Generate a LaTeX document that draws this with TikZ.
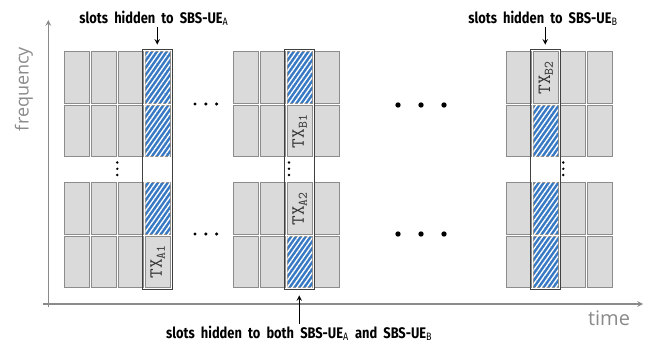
\documentclass[tikz,border=0pt]{standalone}
\usepackage{fontspec}
\newfontfamily\lblfont{Fira Sans}[FakeStretch=0.84]
\newfontfamily\axfont{Open Sans}
\newcommand\lblstyle{\fontsize{11.5}{12}\selectfont\lblfont\bfseries\spaceskip=4.6pt plus 1pt\relax}
\usetikzlibrary{calc, patterns.meta}
\definecolor{slotgray}{HTML}{DADADA}
\definecolor{slotedge}{HTML}{8C8C8C}
\definecolor{hidblue}{HTML}{3879C4}
\definecolor{axgray}{HTML}{8A8A8A}
\definecolor{boxedge}{HTML}{404040}

\begin{document}
\begin{tikzpicture}[x=0.75pt, y=-0.75pt, >=stealth,
    slot/.style={draw=slotedge, fill=slotgray, line width=0.7pt, inner sep=0pt,
                 minimum width=18.4pt, minimum height=38.6pt, anchor=north west},
    hidden/.style={draw=slotedge, fill=hidblue, line width=0.7pt, inner sep=0pt,
                   minimum width=18.4pt, minimum height=38.6pt,
                   postaction={pattern={Lines[angle=55, distance=3pt, line width=1pt]},
                               pattern color=white}},
    colbox/.style={draw=boxedge, line width=1.1pt, minimum width=22.5pt,
                   minimum height=180pt, inner sep=0pt},
    txlbl/.style={rotate=90, text=black!80, font=\fontsize{14}{14}\selectfont\ttfamily},
    toplbl/.style={font=\lblstyle, inner sep=1pt},
    axlbl/.style={text=axgray, font=\fontsize{13.5}{14}\selectfont\axfont},
    axis/.style={draw=axgray, line width=0.9pt},
    dot/.style={fill=black}]
  \useasboundingbox (0,0) rectangle (653,342);

  % axes
  \coordinate (xs) at (43,304);
  \coordinate (xe) at (643,304);
  \coordinate (ys) at (48.3,307);
  \coordinate (ye) at (48.3,20);
  \draw[axis, ->] (xs) -- (xe);
  \draw[axis, ->] (ys) -- (ye);
  \node[axlbl, rotate=90] (freq) at (24,89) {frequency};
  \node[axlbl, font=\fontsize{15}{15}\selectfont\axfont] (time) at (609,318) {time};

  % slot grid: three groups of four columns, four rows
  \foreach \gx/\gn in {64/a, 233/b, 506/c}
    \foreach \c in {1,...,4}
      \foreach \r/\ry in {1/51.5, 2/105, 3/182.5, 4/235.5}
        \node[slot] (\gn\c\r) at (\gx+27*\c-27, \ry) {};

  % hidden slots
  \foreach \n in {a41, a42, a43, b31, b34, c22, c23, c24}
    \node[hidden] (h\n) at (\n) {};

  % transmissions
  \node[txlbl] (txA1) at (a44) {TX\textsubscript{A1}};
  \node[txlbl] (txB1) at (b32) {TX\textsubscript{B1}};
  \node[txlbl] (txA2) at (b33) {TX\textsubscript{A2}};
  \node[txlbl] (txB2) at (c21) {TX\textsubscript{B2}};

  % columns seen by the receivers
  \node[colbox] (boxA) at (157.25,169.3) {};
  \node[colbox] (boxB) at (299.25,169.3) {};
  \node[colbox] (boxC) at (545.25,169.3) {};

  % dots
  \foreach \x in {195, 205.8, 216.7}
    \foreach \y in {104, 234}
      \fill[dot] (\x,\y) circle[radius=1.3pt];
  \foreach \x in {398, 421, 444}
    \foreach \y in {105, 234}
      \fill[dot] (\x,\y) circle[radius=2pt];
  \foreach \x in {117.3, 289, 563.3}
    \foreach \y in {162.5, 168.8, 175}
      \fill[dot] (\x,\y) circle[radius=1pt];

  % labels
  \node[toplbl] (lblA) at (154,18) {slots hidden to SBS-UE\textsubscript{\mdseries A}};
  \node[toplbl] (lblB) at (543,18) {slots hidden to SBS-UE\textsubscript{\mdseries B}};
  \node[toplbl] (lblAB) at (299.25,333) {slots hidden to both SBS-UE\textsubscript{\mdseries A} and SBS-UE\textsubscript{\mdseries B}};
  \draw[->, line width=0.8pt, shorten >=3pt] (lblA.south -| boxA.north) -- (boxA.north);
  \draw[->, line width=0.8pt, shorten >=3pt] (lblB.south -| boxC.north) -- (boxC.north);
  \draw[->, line width=0.8pt, shorten >=4pt] (lblAB.north -| boxB.south) -- (boxB.south);
\end{tikzpicture}
\end{document}
